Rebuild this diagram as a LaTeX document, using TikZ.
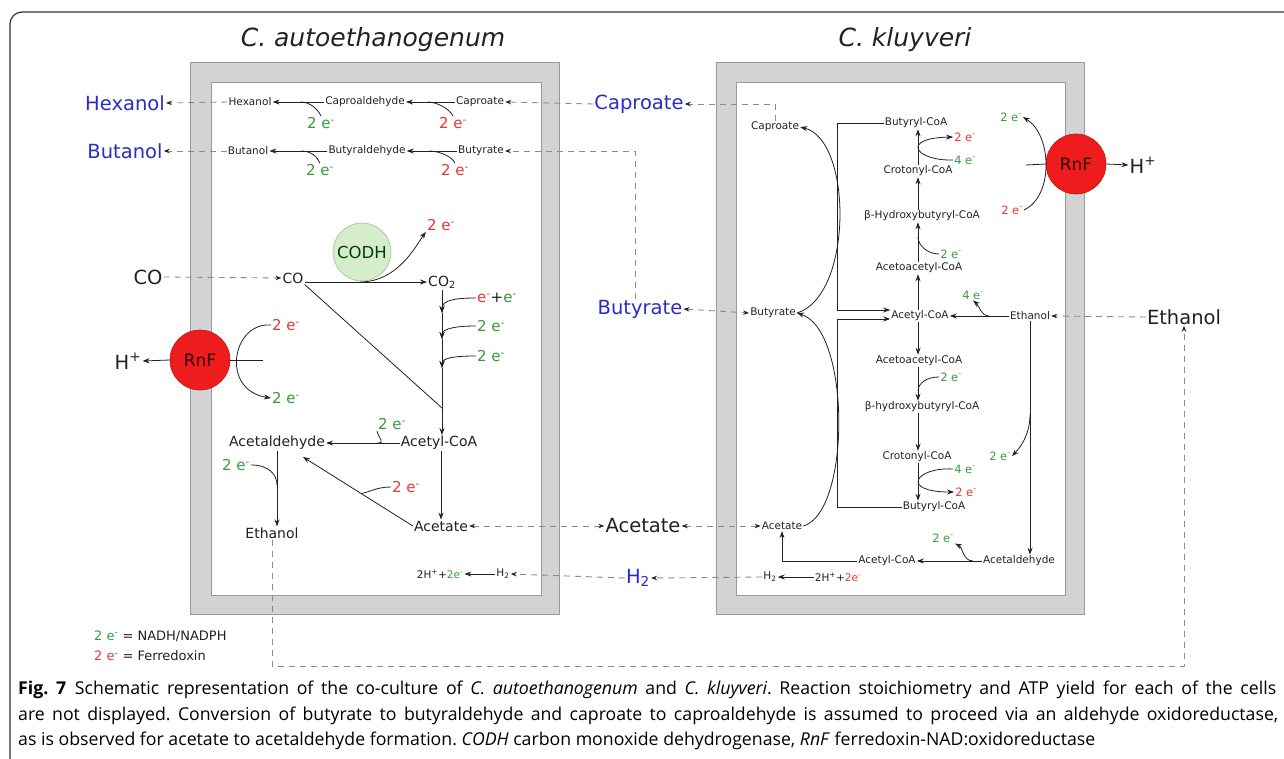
\documentclass[tikz,border=0pt]{standalone}
\usepackage{fontspec}
\setmainfont{DejaVu Sans}
\newfontfamily\capfont{Open Sans}
\usetikzlibrary{arrows.meta,calc}
\definecolor{blueT}{HTML}{2B2BC8}
\definecolor{greenT}{HTML}{3C9A3C}
\definecolor{redT}{HTML}{E53935}
\definecolor{txt}{HTML}{222222}
\definecolor{cellg}{HTML}{D3D3D3}
\definecolor{cellb}{HTML}{9A9A9A}
\definecolor{dashc}{HTML}{8A8A8A}
\definecolor{rnfc}{HTML}{EE1C1C}
\definecolor{rnfb}{HTML}{C41010}
\definecolor{codhc}{HTML}{D5EDCB}
\definecolor{codhb}{HTML}{9CC39A}
\definecolor{framec}{HTML}{333333}
\newcommand{\elec}{e\textsuperscript{-}}
\begin{document}
\begin{tikzpicture}[x=1pt,y=-1pt,
  every node/.style={inner sep=1pt, text=txt},
  sm/.style={font=\fontsize{10.5}{12}\selectfont},
  md/.style={font=\fontsize{14}{16}\selectfont},
  lg/.style={font=\fontsize{19.5}{22}\selectfont},
  elL/.style={font=\fontsize{15}{17}\selectfont},
  elR/.style={font=\fontsize{11.5}{13}\selectfont},
  ttl/.style={font=\fontsize{25}{28}\selectfont\itshape},
  capt/.style={anchor=west, font=\capfont\fontsize{17.7}{20}\selectfont\frenchspacing, text=black},
  arr/.style={draw=txt, line width=0.8pt, -{Stealth[length=7pt,width=5pt]}},
  ln/.style={draw=txt, line width=0.8pt},
  dsh/.style={draw=dashc, line width=0.9pt, dash pattern=on 6pt off 5pt},
  dtip/.style={-{Stealth[length=6pt,width=4.5pt,color=txt]}},
  dtip2/.style={{Stealth[length=6pt,width=4.5pt,color=txt]}-{Stealth[length=6pt,width=4.5pt,color=txt]}},
  rnf/.style={circle, minimum size=60pt, fill=rnfc, draw=rnfb, line width=0.6pt, font=\fontsize{17}{19}\selectfont, text=black!80!red},
  cellwall/.style={fill=cellg, draw=cellb, line width=0.8pt},
  cellin/.style={fill=white, draw=cellb, line width=0.8pt}
]
\useasboundingbox (0,0) rectangle (1284,759);
\begin{scope}
\clip (0,0) rectangle (1284,759);
\draw[line width=1.2pt, draw=framec, rounded corners=12pt] (10,12) rectangle (1310,800);
\end{scope}

% titles
\node[ttl] (t1) at (373,40) {C. autoethanogenum};
\node[ttl] (t2) at (905,40) {C. kluyveri};

% cells
\draw[cellwall] (190,62) rectangle (559,614);
\draw[cellin] (211,82) rectangle (541,595);
\draw[cellwall] (716,62) rectangle (1084,614);
\draw[cellin] (736,82) rectangle (1065,595);

% ---------- left cell, top rows
\node[sm] (hexL) at (250,102) {Hexanol};
\node[sm] (caldL) at (365,102) {Caproaldehyde};
\node[sm] (capL) at (480,102) {Caproate};
\node[sm] (butolL) at (248,151) {Butanol};
\node[sm] (baldL) at (367,151) {Butyraldehyde};
\node[sm] (butL) at (481,151) {Butyrate};
\node[elL,text=greenT] (e1) at (321,123) {2 \elec};
\node[elL,text=redT] (e2) at (453,123) {2 \elec};
\node[elL,text=greenT] (e3) at (320,170) {2 \elec};
\node[elL,text=redT] (e4) at (455,170) {2 \elec};
\draw[arr] (caldL.west) -- (hexL.east);
\draw[arr] (capL.west) -- (caldL.east);
\draw[arr] (baldL.west) -- (butolL.east);
\draw[arr] (butL.west) -- (baldL.east);
\coordinate (b1) at ($(caldL.west)!0.45!(hexL.east)$);
\coordinate (b2) at ($(capL.west)!0.55!(caldL.east)$);
\coordinate (b3) at ($(baldL.west)!0.45!(butolL.east)$);
\coordinate (b4) at ($(butL.west)!0.55!(baldL.east)$);
\draw[ln] (e1.north) .. controls +(-3,-7) and +(9,0) .. (b1);
\draw[ln] (e2.north) .. controls +(-3,-7) and +(9,0) .. (b2);
\draw[ln] (e3.north) .. controls +(-3,-7) and +(9,0) .. (b3);
\draw[ln] (e4.north) .. controls +(-3,-7) and +(9,0) .. (b4);

% outside products
\node[lg,text=blueT] (HexB) at (125,103) {Hexanol};
\node[lg,text=blueT] (ButB) at (125,151) {Butanol};
\draw[dsh,dtip] (hexL.west) -- (HexB.east);
\draw[dsh,dtip] (butolL.west) -- (ButB.east);

% middle
\node[lg,text=blueT] (CapB) at (639,104) {Caproate};
\node[lg,text=blueT] (ButyB) at (640,309) {Butyrate};
\node[lg] (AcB) at (643,526) {Acetate};
\node[lg,text=blueT] (H2B) at (638,578) {H\textsubscript{2}};
\node[lg] (EtB) at (1184,317) {Ethanol};

% ---------- left cell, middle
\node[lg] (COout) at (148,277) {CO};
\node[md] (COin) at (293,278) {CO};
\node[md] (CO2) at (442,282) {CO\textsubscript{2}};
\node[circle, minimum size=58pt, fill=codhc, draw=codhb, line width=0.6pt, font=\fontsize{16.5}{18}\selectfont, text=black!75!green] (codh) at (362,252) {CODH};
\node[elL,text=redT] (eCO) at (441,225) {2 \elec};
\draw[dsh,dtip] (COout.east) -- (COin.west);
\draw[arr] (COin.east |- CO2.west) -- (CO2.west);
\coordinate (bco) at ($(COin.east |- CO2.west)!0.45!(CO2.west)$);
\draw[arr] (bco) .. controls +(38,0) and +(-10,14) .. (eCO.south west);

\coordinate (jL1) at (442,313);
\coordinate (jL2) at (442,339);
\coordinate (jL3) at (442,368);
\coordinate (jL4) at (442,408);
\node[elL] (em1) at (497,298) {{\color{redT}\elec}+{\color{greenT}\elec}};
\node[elL,text=greenT] (em2) at (491,326) {2 \elec};
\node[elL,text=greenT] (em3) at (491,356) {2 \elec};
\node[md] (acoaL) at (439,443) {Acetyl-CoA};
\node[md] (aldL) at (277,443) {Acetaldehyde};
\node[md] (etL) at (272,533) {Ethanol};
\node[md] (acL) at (441,526) {Acetate};
\draw[arr] (CO2.south -| jL1) -- (jL1);
\draw[arr] (jL1) -- (jL2);
\draw[arr] (jL2) -- (jL3);
\draw[arr] (jL3) -- (jL3 |- acoaL.north);
\draw[arr] (em1.west) .. controls +(-24,0) and +(0,-12) .. (jL1);
\draw[arr] (em2.west) .. controls +(-22,0) and +(0,-10) .. (jL2);
\draw[arr] (em3.west) .. controls +(-22,0) and +(0,-10) .. (jL3);
\draw[ln] (COin.south east) -- (jL4);

% RnF left
\node[rnf] (rnfL) at (200,360) {RnF};
\node[lg] (Hl) at (128,361) {H\textsuperscript{+}};
\node[elL,text=redT] (eRl) at (286,325) {2 \elec};
\node[elL,text=greenT] (eGl) at (286,398) {2 \elec};
\coordinate (rl) at (263,360);
\draw[arr] (rnfL.west) -- (Hl.east);
\draw[ln] (rnfL.east) -- (rl);
\draw[arr] (eRl.west) .. controls (232,322) and (220,390) .. (eGl.west);

% left bottom
\node[elL,text=greenT] (eG5) at (392,424) {2 \elec};
\node[elL,text=greenT] (eG6) at (236,465) {2 \elec};
\node[elL,text=redT] (eR7) at (406,487) {2 \elec};
\draw[arr] (acoaL.west) -- (aldL.east);
\draw[arr] (aldL.south) -- (aldL.south |- etL.north);
\draw[arr] (acoaL.south -| acL.north) -- (acL.north);
\coordinate (aldT) at (303,457);
\draw[arr] (acL.west) -- (aldT);
\coordinate (b5) at ($(acoaL.west)!0.3!(aldL.east)$);
\coordinate (b6) at ($(aldL.south)!0.45!(aldL.south |- etL.north)$);
\coordinate (b7) at ($(acL.west)!0.47!(aldT)$);
\draw[ln] (eG5.south west) .. controls +(2,8) and +(8,0) .. (b5);
\draw[ln] (eG6.east) .. controls +(18,0) and +(0,-10) .. (b6);
\draw[ln] (eR7.west) .. controls +(-14,0) and +(10,-2) .. (b7);
\node[sm] (h2L) at (503,574) {H\textsubscript{2}};
\node[sm] (hpL) at (440,574) {2H\textsuperscript{+}+{\color{greenT}2e\textsuperscript{-}}};
\draw[arr] (h2L.west) -- (hpL.east);

% ---------- right cell
\node[sm] (capR) at (775,127) {Caproate};
\node[sm] (butR) at (773,313) {Butyrate};
\node[sm] (acR) at (782,526) {Acetate};
\node[sm] (bcoa1) at (916,123) {Butyryl-CoA};
\node[sm] (cro1) at (918,171) {Crotonyl-CoA};
\node[sm] (hb1) at (922,216) {β-Hydroxybutyryl-CoA};
\node[sm] (aac1) at (919,268) {Acetoacetyl-CoA};
\node[sm] (acoaR) at (920,316) {Acetyl-CoA};
\node[sm] (etR) at (1030,316) {Ethanol};
\node[sm] (aac2) at (919,361) {Acetoacetyl-CoA};
\node[sm] (hb2) at (922,407) {β-hydroxybutyryl-CoA};
\node[sm] (cro2) at (917,457) {Crotonyl-CoA};
\node[sm] (bcoa2) at (934,507) {Butyryl-CoA};
\node[sm] (aldR) at (1019,561) {Acetaldehyde};
\node[sm] (acoaR2) at (887,561) {Acetyl-CoA};
\node[sm] (h2R) at (770,577) {H\textsubscript{2}};
\node[sm] (hpR) at (838,577) {2H\textsuperscript{+}+{\color{redT}2e\textsuperscript{-}}};

% up chain
\draw[arr] (acoaR.north -| 918,0) -- (aac1.south -| 918,0);
\draw[arr] (aac1.north -| 918,0) -- (hb1.south -| 918,0);
\draw[arr] (hb1.north -| 918,0) -- (cro1.south -| 918,0);
\draw[arr] (cro1.north -| 918,0) -- (bcoa1.south -| 918,0);
% down chain
\draw[arr] (acoaR.south -| 918,0) -- (aac2.north -| 918,0);
\draw[arr] (aac2.south -| 918,0) -- (hb2.north -| 918,0);
\draw[arr] (hb2.south -| 918,0) -- (cro2.north -| 918,0);
\draw[arr] (cro2.south -| 918,0) -- (bcoa2.north -| 918,0);

% electrons right
\node[elR,text=redT] (eRa) at (965,137) {2 \elec};
\node[elR,text=greenT] (eGa) at (965,160) {4 \elec};
\draw[arr] (eGa.west) .. controls (915,161) and (900,138) .. (eRa.west);
\node[elR,text=greenT] (eGb) at (951,254) {2 \elec};
\coordinate (jb) at (918,237);
\draw[ln] (eGb.west) .. controls +(-12,0) and +(0,8) .. (jb);
\node[elR,text=greenT] (eGd) at (951,377) {2 \elec};
\coordinate (jd) at (918,391);
\draw[ln] (eGd.west) .. controls +(-12,0) and +(0,-8) .. (jd);
\node[elR,text=greenT] (eGe) at (965,469) {4 \elec};
\node[elR,text=redT] (eRe) at (966,492) {2 \elec};
\draw[arr] (eGe.west) .. controls (915,467) and (900,492) .. (eRe.west);

\node[elR,text=greenT] (eGc) at (973,295) {4 \elec};
\draw[arr] (etR.west) -- (acoaR.east);
\coordinate (jc) at (989,316);
\draw[arr] (jc) .. controls +(-8,0) and +(6,5) .. (eGc.south);

\draw[arr] (etR.south) -- (etR.south |- aldR.north);
\node[elR,text=greenT] (eGf) at (1000,456) {2 \elec};
\coordinate (jf) at ($(etR.south)!0.4!(etR.south |- aldR.north)$);
\draw[arr] (jf) .. controls +(0,22) and +(6,-6) .. (eGf.east);

\draw[arr] (aldR.west) -- (acoaR2.east);
\node[elR,text=greenT] (eGg) at (943,538) {2 \elec};
\coordinate (jg) at (973,561);
\draw[arr] (jg) .. controls +(-10,0) and +(8,4) .. (eGg.south east);

\draw[arr] (acoaR2.west) -| (acR.south);
\draw[arr] (hpR.west) -- (h2R.east);

% brackets
\coordinate (bk1) at (837,310);
\coordinate (bk2) at (837,319);
\draw[arr] (bcoa1.west) -| (bk1) -- (bk1 -| acoaR.west);
\draw[arr] (bcoa2.west) -| (bk2) -- (bk2 -| acoaR.west);

% curved conversions
\draw[arr] (butR.east) .. controls (853,296) and (853,140) .. (capR.east);
\draw[arr] (acR.east) .. controls (851,512) and (851,330) .. (butR.east);

% RnF right
\node[rnf] (rnfR) at (1076,164) {RnF};
\node[lg] (Hr) at (1143,165) {H\textsuperscript{+}};
\node[elR,text=greenT] (eGr) at (1011,117) {2 \elec};
\node[elR,text=redT] (eRr) at (1012,210) {2 \elec};
\coordinate (rr) at (1026,165);
\draw[arr] (rnfR.east) -- (Hr.west);
\draw[ln] (rnfR.west) -- (rr);
\draw[arr] (eRr.east) .. controls (1054,196) and (1052,135) .. (eGr.east);

% ---------- exchange (dashed)
\draw[dsh,dtip] (CapB.west) -- (capL.east);
\draw[dsh,dtip] (capR.north) |- (CapB.east);
\draw[dsh,dtip] ([xshift=-5pt]ButyB.north) |- (butL.east);
\draw[dsh,dtip2] (ButyB.east) -- (butR.west);
\draw[dsh,dtip2] (acL.east) -- (AcB.west);
\draw[dsh,dtip2] (AcB.east) -- (acR.west);
\draw[dsh,dtip] (h2R.west) -- (H2B.east);
\draw[dsh,dtip] (H2B.west) -- (h2L.east);
\draw[dsh,dtip] (EtB.west) -- (etR.east);
\coordinate (loop) at (1184,666);
\draw[dsh,dtip] (etL.south) |- (loop) -- (EtB.south);

% legend
\node[anchor=west, font=\fontsize{13}{15}\selectfont] (leg1) at (93,636) {{\color{greenT}2 \elec} = NADH/NADPH};
\node[anchor=west, font=\fontsize{13}{15}\selectfont] (leg2) at (93,656) {{\color{redT}2 \elec} = Ferredoxin};

% caption
\node[capt] (cap1) at (17,690) {\makebox[1258pt][s]{\textbf{Fig.~7}\enspace Schematic representation of the co-culture of \textit{C. autoethanogenum} and \textit{C. kluyveri}. Reaction stoichiometry and ATP yield for each of the cells}};
\node[capt] (cap2) at (17,716) {\makebox[1260pt][s]{are not displayed. Conversion of butyrate to butyraldehyde and caproate to caproaldehyde is assumed to proceed via an aldehyde oxidoreductase,}};
\node[capt] (cap3) at (17,741) {as is observed for acetate to acetaldehyde formation. \textit{CODH} carbon monoxide dehydrogenase, \textit{RnF} ferredoxin-NAD:oxidoreductase};
\end{tikzpicture}
\end{document}
